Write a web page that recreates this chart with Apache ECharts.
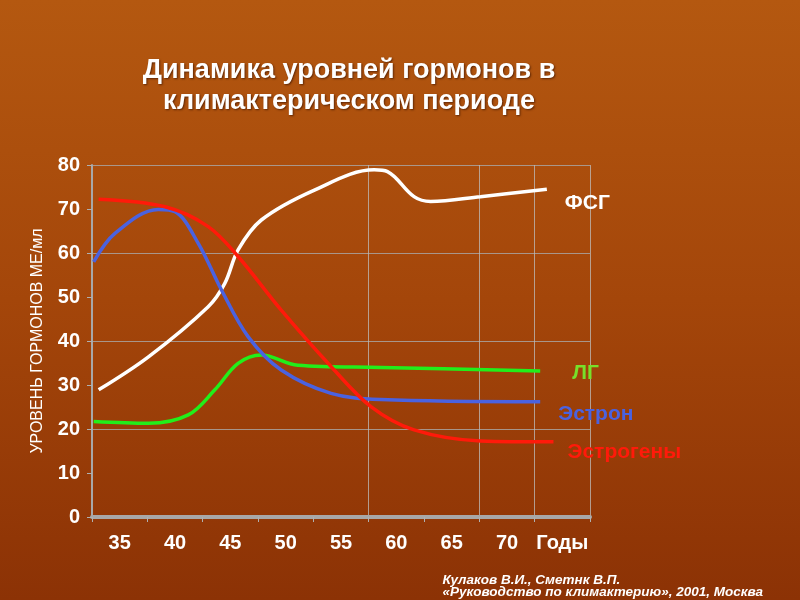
<!DOCTYPE html>
<html><head><meta charset="utf-8">
<script src="https://cdn.jsdelivr.net/npm/echarts@6/dist/echarts.min.js"></script>
<style>html,body{margin:0;padding:0;background:#a2470b}#c{width:800px;height:600px}</style>
</head><body><div id="c"></div>
<script>
var xCategories = ['35','40','45','50','55','60','65','70','Годы'];
var yTicks = [0,10,20,30,40,50,60,70,80];
var fsh = [[33.1,28.9],[37.6,36.4],[43.0,47.8],[44.5,53.1],[45.7,60.7],[47.8,67.5],[52.6,74.3],[58.0,78.9],[59.2,78.5],[61.6,72.8],[63.1,71.7],[67.6,72.8],[73.6,74.5]];
var estrogens = [[33.1,72.2],[39.1,70.5],[43.0,66.0],[45.7,59.2],[49.6,47.0],[54.1,34.2],[57.7,25.1],[61.6,19.8],[67.6,17.3],[74.2,17.1]];
var estron = [[32.65,58.0],[34.6,64.5],[38.5,69.9],[40.0,69.4],[42.1,62.2],[44.2,51.6],[46.6,41.0],[49.6,33.4],[54.1,28.1],[58.6,26.7],[73.0,26.2]];
var lh = [[32.65,21.7],[37.6,21.3],[41.2,23.2],[43.6,28.9],[45.7,34.9],[47.8,36.8],[51.1,34.5],[58.6,34.0],[73.0,33.2]];
var seriesNames = ['ФСГ','Эстрогены','Эстрон','ЛГ'];

var FONT = 'Liberation Sans, Arial';
var chart = echarts.init(document.getElementById('c'));
function line(name, data, color, lblColor, dx, dy) {
  return {
    name: name, type: 'line', xAxisIndex: 1, yAxisIndex: 0, data: data, smooth: 0.35, symbol: 'none',
    lineStyle: { color: color, width: 3.5 },
    endLabel: { show: true, formatter: name, color: lblColor, fontFamily: FONT, fontWeight: 'bold', fontSize: 21, offset: [dx, dy] }
  };
}
chart.setOption({
  backgroundColor: new echarts.graphic.LinearGradient(0,0,0,1,[{offset:0,color:'#b45810'},{offset:0.5,color:'#a4460a'},{offset:1,color:'#8c3205'}]),
  animation: false,
  title: {
    text: 'Динамика уровней гормонов в\nклимактерическом периоде',
    top: 50, left: 344, textAlign: 'center',
    textStyle: { color: '#ffffff', fontFamily: FONT, fontWeight: 'bold', fontSize: 27, lineHeight: 31,
      textShadowColor: 'rgba(60,20,0,0.7)', textShadowBlur: 2, textShadowOffsetX: 1, textShadowOffsetY: 1 }
  },
  grid: { left: 92, right: 210, top: 165, bottom: 83 },
  xAxis: [{
    type: 'category', data: xCategories, boundaryGap: true,
    axisLine: { lineStyle: { color: '#a8a8a8', width: 4 } },
    axisTick: { show: true, length: 5, lineStyle: { color: '#b0b0b0' } },
    axisLabel: { interval: 0, color: '#fff', fontFamily: FONT, fontWeight: 'bold', fontSize: 20, margin: 16 },
    splitLine: { show: true, interval: function(i){ return i===5||i===7||i===8; }, lineStyle: { color: 'rgba(190,190,190,0.75)', width: 1 } }
  }, {
    type: 'value', min: 32.5, max: 77.5, show: false
  }],
  yAxis: [{
    type: 'value', min: 0, max: 80, interval: 10,
    axisLine: { show: true, lineStyle: { color: '#a8a8a8', width: 2 } },
    axisTick: { show: true, length: 5, lineStyle: { color: '#b0b0b0' } },
    axisLabel: { color: '#fff', fontFamily: FONT, fontWeight: 'bold', fontSize: 20, margin: 12 },
    splitLine: { show: false },
    name: 'УРОВЕНЬ ГОРМОНОВ МЕ/мл', nameLocation: 'middle', nameRotate: 90, nameGap: 46,
    nameTextStyle: { color: '#fff', fontFamily: FONT, fontSize: 16 }
  }, {
    type: 'value', min: 0, max: 80, interval: 20, position: 'left',
    axisLine: { show: false }, axisTick: { show: false }, axisLabel: { show: false },
    splitLine: { show: true, lineStyle: { color: 'rgba(170,170,170,0.8)', width: 1 } }
  }],
  series: [
    line(seriesNames[0], fsh, '#ffffff', '#ffffff', 10, 14),
    line(seriesNames[3], lh, '#22ee1a', '#77e02a', 24, 2),
    line(seriesNames[2], estron, '#4a62e0', '#4a62e0', 10, 12),
    line(seriesNames[1], estrogens, '#ff1a0a', '#ff1a0a', 6, 10)
  ],
  graphic: [{
    type: 'text', right: 37, top: 573,
    style: { text: 'Кулаков В.И., Сметнк В.П.\n«Руководство по климактерию», 2001, Москва', align: 'right',
      fill: '#fff', font: 'italic bold 13.5px Liberation Sans, Arial', lineHeight: 12 }
  }]
});
</script></body></html>
